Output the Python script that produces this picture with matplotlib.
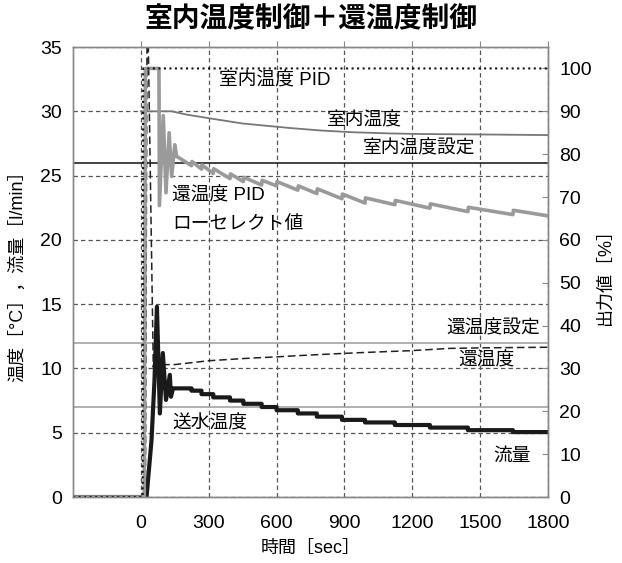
import numpy as np
import matplotlib.pyplot as plt

plt.rcParams['font.family'] = ['Liberation Sans', 'Noto Sans CJK JP', 'DejaVu Sans']

# data ---------------------------------------------------------------
# room temperature [C]
room_t = [0, 136, 200, 305, 450, 659, 800, 938, 1100, 1248, 1500, 1800]
room_v = [30.0, 30.0, 29.75, 29.45, 29.05, 28.7, 28.5, 28.37, 28.28, 28.23, 28.2, 28.15]
room_set = 26.0
return_set = 12.0
supply_temp = 7.0

# return temperature [C]
ret_t = [-300, 20, 28, 33, 55, 62, 75, 85, 100, 150, 200, 300, 482, 600, 700, 895, 1000,
         1190, 1367, 1500, 1800]
ret_v = [0, 0, 40, 35, 10.1, 11.3, 10.0, 10.6, 10.3, 10.3, 10.4, 10.6, 10.8, 10.9, 11.0,
         11.17, 11.25, 11.38, 11.56, 11.6, 11.65]

# flow [l/min] : start-up part, then stairs
flow_t = [-300, 25, 47, 60, 71, 84, 97, 111, 128, 133, 142]
flow_v = [0, 0, 4.4, 9.0, 14.8, 6.5, 11.2, 7.55, 9.5, 7.8, 8.45]
step_t = [224, 268, 320, 394, 453, 534, 600, 694, 778, 889, 991, 1123, 1278, 1446, 1645, 1800]
step_v = [8.27, 8.0, 7.75, 7.5, 7.25, 7.0, 6.75, 6.5, 6.25, 6.0, 5.8, 5.6, 5.4, 5.2, 5.05, 5.05]

# room temperature PID output [%]
rpid_t = [-300, 8, 10, 1800]
rpid_v = [0, 0, 100, 100]

# return temperature PID low-select output [%]
lpid_t = [-300, 15, 20, 80, 82, 99, 111, 125, 136, 150, 158, 224, 226, 268, 270, 320, 322,
          394, 396, 453, 455, 534, 536, 600, 602, 694, 696, 778, 780, 889, 891, 991, 993,
          1123, 1125, 1278, 1280, 1446, 1448, 1645, 1647, 1800]
lpid_v = [0, 0, 100, 100, 68, 89, 71, 85, 74.8, 82.2, 79.5, 77.3, 78.3, 76.5, 77.5, 75.5, 76.6,
          74.3, 75.4, 73.6, 74.6, 72.8, 73.9, 72.6, 73.6, 71.6, 72.6, 70.8, 71.9, 69.6, 70.7,
          68.6, 69.8, 68.2, 69.2, 67.4, 68.4, 66.6, 67.6, 65.9, 66.9, 65.6]

# build stair vertices for flow
st_x = [flow_t[-1]]
st_y = [flow_v[-1]]
for tt, vv in zip(step_t, step_v):
    st_x += [tt, tt]
    st_y += [st_y[-1], vv]
flow_x = flow_t + st_x[1:]
flow_y = flow_v + st_y[1:]

# plot -----------------------------------------------------------------
fig = plt.figure(figsize=(6.22, 5.63), dpi=100, facecolor='w')
ax = fig.add_axes([0.1174, 0.1172, 0.7636, 0.7993])
ax2 = ax.twinx()

ax.set_xlim(-300, 1800)
ax.set_ylim(0, 35)
ax2.set_ylim(0, 105)

ax.set_xticks([0, 300, 600, 900, 1200, 1500, 1800])
ax.set_yticks(range(0, 36, 5))
ax2.set_yticks(range(0, 101, 10))
ax.grid(True, color='#555555', linestyle=(0, (3.5, 2.5)), linewidth=0.9)
ax.set_axisbelow(True)

gray = '#9a9a9a'
ax.axhline(return_set, color='#aaaaaa', lw=1.3)
ax.axhline(supply_temp, color='#aaaaaa', lw=1.3)
ax.axhline(room_set, color='#222222', lw=1.2)
ax.plot(room_t, room_v, color='#777777', lw=1.3)
ax.plot(ret_t, ret_v, color='#222222', lw=1.1, linestyle=(0, (5, 2.5)))
ax.plot(flow_x, flow_y, color='#1a1a1a', lw=3.0)

ax2.plot(lpid_t, lpid_v, color=gray, lw=2.6)
ax2.plot(rpid_t, rpid_v, color='#111111', lw=1.5, linestyle=':')

for a in (ax, ax2):
    for s in a.spines.values():
        s.set_color('#888888')
        s.set_linewidth(1.0)

ax.tick_params(axis='x', top=True, bottom=False, direction='out', length=4,
               color='#888888', labelsize=14, pad=9)
ax.tick_params(axis='y', length=0, labelsize=14, pad=8)
ax2.tick_params(axis='y', direction='in', length=4, color='#888888', labelsize=14, pad=8)

fs = 13.5
ax.text(345, 32.4, '室内温度 PID', fontsize=fs, va='center')
ax.text(823, 29.3, '室内温度', fontsize=fs, va='center')
ax.text(982, 27.1, '室内温度設定', fontsize=fs, va='center')
ax.text(137, 23.4, '還温度 PID', fontsize=fs, va='center')
ax.text(137, 21.2, 'ローセレクト値', fontsize=fs, va='center')
ax.text(1765, 13.1, '還温度設定', fontsize=fs, va='center', ha='right')
ax.text(1402, 10.6, '還温度', fontsize=fs, va='center')
ax.text(137, 5.7, '送水温度', fontsize=fs, va='center')
ax.text(1557, 3.2, '流量', fontsize=fs, va='center')

ax.set_ylabel('温度［°C］，流量［l/min］', fontsize=13, labelpad=10)
ax2.set_ylabel('出力値［%］', fontsize=13, labelpad=4)
ax.set_xlabel('時間［sec］', fontsize=13, labelpad=6)
fig.text(0.5, 0.965, '室内温度制御＋還温度制御', fontsize=20, fontweight='bold',
         ha='center', va='center')

fig.savefig('out.png', dpi=100)
